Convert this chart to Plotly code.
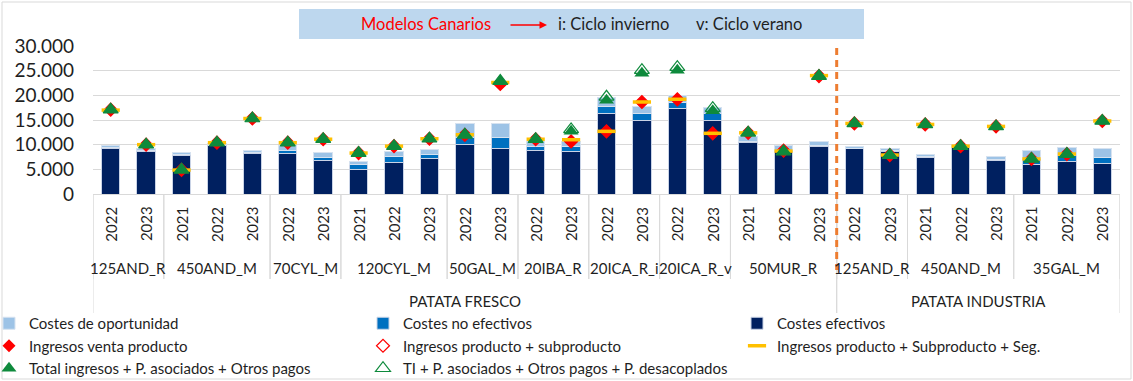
import plotly.graph_objects as go

# ---- categories (three-level axis: sector / model / year) ----
sector = ["PATATA FRESCO"] * 21 + ["PATATA INDUSTRIA"] * 8
modelo = (["125AND_R"] * 2 + ["450AND_M"] * 3 + ["70CYL_M"] * 2 + ["120CYL_M"] * 3
          + ["50GAL_M"] * 2 + ["20IBA_R"] * 2 + ["20ICA_R_i"] * 2 + ["20ICA_R_v"] * 2
          + ["50MUR_R"] * 3
          + ["125AND_R"] * 2 + ["450AND_M"] * 3 + ["35GAL_M"] * 3)
anio = ["2022", "2023", "2021", "2022", "2023", "2022", "2023", "2021", "2022", "2023",
        "2022", "2023", "2022", "2023", "2022", "2023", "2022", "2023", "2021", "2022",
        "2023", "2022", "2023", "2021", "2022", "2023", "2021", "2022", "2023"]

# ---- stacked costs (€/ha) ----
costes_efectivos = [9300, 8650, 7900, 9800, 8300, 8200, 6800, 5000, 6400, 7100,
                    10100, 9300, 8850, 8650, 16250, 14850, 17250, 14850, 10500, 8650,
                    9550, 9150, 8600, 7500, 9350, 6850, 5950, 6600, 6200]
costes_no_efectivos = [200, 150, 150, 150, 150, 600, 550, 950, 1250, 900,
                       1350, 2150, 800, 1000, 1550, 1400, 1250, 1500, 200, 200,
                       200, 100, 150, 100, 150, 100, 1200, 1150, 1150]
costes_oportunidad = [400, 400, 300, 350, 450, 1000, 1150, 700, 900, 1000,
                      2850, 2850, 1000, 900, 1850, 1550, 1400, 1250, 900, 950,
                      800, 400, 550, 400, 350, 650, 1650, 1700, 1800]

# ---- income series (€/ha) ----
ingresos_venta = [17100, 10000, 4900, 10400, 15300, 10400, 11100, 8300, 9700, 11200,
                  12000, 22300, 11100, 10650, 12700, 18650, 19200, 12300, 12400, 8800,
                  23900, 14300, 7900, 14100, 9700, 13700, 7100, 8100, 14800]
ingresos_subproducto = [17100, 10000, 4900, 10400, 15300, 10400, 11100, 8300, 9700, 11200,
                        12000, 22300, 11100, 10650, 12700, 18650, 19200, 12300, 12400, 8800,
                        23900, 14300, 7900, 14100, 9700, 13700, 7100, 8100, 14800]
ingresos_seg = [17000, 10000, 4850, 10400, 15300, 10400, 11100, 8300, 9700, 11200,
                12000, 22600, 11100, 11000, 12700, 18650, 19200, 12300, 12400, 8700,
                24000, 14300, 7900, 14100, 9700, 13700, 7100, 8100, 14800]
total_ingresos = [17100, 10000, 4900, 10400, 15300, 10400, 11100, 8300, 9700, 11200,
                  12000, 22900, 11100, 12700, 19000, 24500, 25100, 16900, 12400, 8600,
                  23900, 14300, 7900, 14100, 9700, 13700, 7100, 8100, 14800]
ti_desacoplados = [17100, 10000, 4900, 10400, 15300, 10400, 11100, 8300, 9700, 11200,
                   12000, 22900, 11100, 13100, 19700, 25100, 25700, 17400, 12400, 8600,
                   23900, 14300, 7900, 14100, 9700, 13700, 7100, 8100, 14800]

# ---- geometry helpers (figure pixels -> paper coords) ----
W, H = 1133, 381
ML, MR, MT, MB = 93, 13, 46, 187
PW, PH = W - ML - MR, H - MT - MB


def px_x(px):
    return (px - ML) / PW


def px_y(py):
    return (H - MB - py) / PH


FONT = "Lato"
TXT = "#1f1f1f"
GRID = "#D9D9D9"

ids = [f"{s} | {m} | {a}" for s, m, a in zip(sector, modelo, anio)]

fig = go.Figure()

fig.add_bar(x=ids, y=costes_efectivos, name="Costes efectivos", legendrank=3,
            marker=dict(color="#002060", line=dict(color="#C9D3E6", width=1)))
fig.add_bar(x=ids, y=costes_no_efectivos, name="Costes no efectivos", legendrank=2,
            marker=dict(color="#0070C0", line=dict(color="#C9D3E6", width=1)))
fig.add_bar(x=ids, y=costes_oportunidad, name="Costes de oportunidad", legendrank=1,
            marker=dict(color="#9DC3E6", line=dict(color="#D6E2F0", width=1)))

fig.add_scatter(x=ids, y=ingresos_venta, mode="markers", name="Ingresos venta producto",
                legendrank=4, marker=dict(symbol="diamond", size=10, color="#FF0000"))
fig.add_scatter(x=ids, y=ingresos_subproducto, mode="markers",
                name="Ingresos producto + subproducto", legendrank=5,
                marker=dict(symbol="diamond-open", size=10, color="#FF0000",
                            line=dict(width=1.2)))
fig.add_scatter(x=ids, y=ingresos_seg, mode="markers",
                name="Ingresos producto + Subproducto + Seg.", legendrank=6,
                marker=dict(symbol="line-ew", size=13, color="#FFC000",
                            line=dict(color="#FFC000", width=3.5)))
fig.add_scatter(x=ids, y=total_ingresos, mode="markers",
                name="Total ingresos + P. asociados + Otros pagos", legendrank=7,
                marker=dict(symbol="triangle-up", size=13, color="#0E8A3C"))
fig.add_scatter(x=ids, y=ti_desacoplados, mode="markers",
                name="TI + P. asociados + Otros pagos + P. desacoplados", legendrank=8,
                marker=dict(symbol="triangle-up-open", size=13, color="#0E8A3C",
                            line=dict(width=1.2)))

annotations = []
shapes = []


def label(x, y, text, xref="paper", size=15, color=TXT, angle=0):
    return dict(x=x, y=y, xref=xref, yref="paper", text=text, textangle=angle,
                xanchor="center", yanchor="middle", showarrow=False,
                font=dict(family=FONT, size=size, color=color))


# year labels (level 1)
for i, a in enumerate(anio):
    annotations.append(label(i, px_y(224), a, xref="x", angle=-90))


def runs(keys):
    out = []
    start = 0
    for i in range(1, len(keys) + 1):
        if i == len(keys) or keys[i] != keys[start]:
            out.append((keys[start], start, i - 1))
            start = i
    return out


# model labels (level 2) with divider lines
model_runs = runs(list(zip(sector, modelo)))
for (s, m), a, b in model_runs:
    annotations.append(label((a + b) / 2, px_y(268), m, xref="x"))
    for edge in (a - 0.5, b + 0.5):
        shapes.append(dict(type="line", xref="x", yref="paper", x0=edge, x1=edge,
                           y0=0, y1=px_y(279), line=dict(color=GRID, width=1)))

# sector labels (level 3) with divider lines
sector_runs = runs(sector)
for s, a, b in sector_runs:
    annotations.append(label((a + b) / 2, px_y(301), s, xref="x"))
    for edge in (a - 0.5, b + 0.5):
        shapes.append(dict(type="line", xref="x", yref="paper", x0=edge, x1=edge,
                           y0=0, y1=px_y(313), line=dict(color=GRID, width=1)))

# dashed separator between fresh and industrial potato
split = sector_runs[0][2] + 0.5
shapes.append(dict(type="line", xref="x", yref="paper", x0=split, x1=split,
                   y0=px_y(48), y1=px_y(270),
                   line=dict(color="#ED7D31", width=3, dash="7px,5px")))

# outer chart border
shapes.append(dict(type="rect", xref="paper", yref="paper", x0=px_x(2), x1=px_x(1131),
                   y0=px_y(379), y1=px_y(2), line=dict(color=GRID, width=1),
                   fillcolor="rgba(0,0,0,0)", layer="below"))

# header box
shapes.append(dict(type="rect", xref="paper", yref="paper", x0=px_x(299), x1=px_x(864),
                   y0=px_y(39), y1=px_y(9), line=dict(width=0), fillcolor="#BDD7EE"))
annotations += [
    label(px_x(426), px_y(24), "Modelos Canarios", size=16.5, color="#FF0000"),
    dict(x=px_x(547), y=px_y(25), xref="paper", yref="paper", text="", showarrow=True,
         ax=-38, ay=0, arrowhead=2, arrowsize=1, arrowwidth=1.5, arrowcolor="#FF0000"),
    label(px_x(613), px_y(24), "i: Ciclo invierno", size=16.5),
    label(px_x(749), px_y(24), "v: Ciclo verano", size=16.5),
]

fig.update_layout(
    width=W, height=H,
    margin=dict(l=ML, r=MR, t=MT, b=MB, autoexpand=False),
    paper_bgcolor="white", plot_bgcolor="white",
    barmode="stack", bargap=0.48,
    separators=",.",
    font=dict(family=FONT, color=TXT),
    showlegend=True,
    legend=dict(orientation="h", x=px_x(-11), xanchor="left", y=px_y(307), yanchor="top",
                entrywidth=329, entrywidthmode="pixels", traceorder="normal",
                font=dict(family=FONT, size=15, color=TXT), bgcolor="rgba(0,0,0,0)"),
    xaxis=dict(type="category", showticklabels=False, ticks="", showgrid=False,
               showline=True, linecolor=GRID, linewidth=1, range=[-0.5, len(ids) - 0.5]),
    yaxis=dict(range=[0, 30000], dtick=5000, tickformat=",.0f", showgrid=True,
               gridcolor=GRID, gridwidth=1, zeroline=False, showline=False,
               ticklabelstandoff=18, tickfont=dict(family=FONT, size=19, color=TXT)),
    shapes=shapes,
    annotations=annotations,
    hovermode=False,
)

fig.write_html("out.html")
